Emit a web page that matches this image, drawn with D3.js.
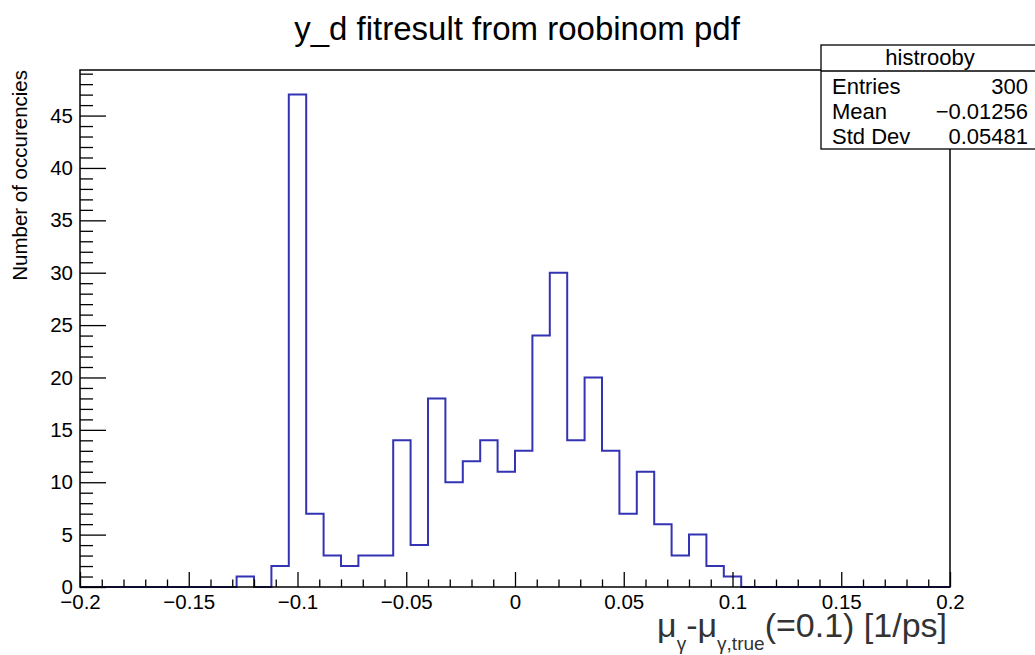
<!DOCTYPE html>
<html>
<head>
<meta charset="utf-8">
<script src="https://cdn.jsdelivr.net/npm/d3@7"></script>
<style>
  html, body { margin: 0; padding: 0; background: #fff; }
  svg { display: block; }
  text { font-family: "Liberation Sans", Arial, Helvetica, sans-serif; }
</style>
</head>
<body>
<svg id="chart" width="1035" height="655"></svg>
<script>
// ---- data ----
const title = "y_d fitresult from roobinom pdf";
const yTitle = "Number of occurencies";
const xRange = [-0.2, 0.2];
const binWidth = 0.008;
const counts = [0,0,0,0,0,0,0,0,0,1, 0,2,47,7,3,2,3,3,14,4, 18,10,12,14,11,13,24,30,14,20, 13,7,11,6,3,5,2,1,0,0, 0,0,0,0,0,0,0,0,0,0];
const xTicks = [-0.2, -0.15, -0.1, -0.05, 0, 0.05, 0.1, 0.15, 0.2];
const xTickLabels = ["\u22120.2", "\u22120.15", "\u22120.1", "\u22120.05", "0", "0.05", "0.1", "0.15", "0.2"];
const yTicks = [0, 5, 10, 15, 20, 25, 30, 35, 40, 45];
const statsTitle = "histrooby";
const statsNames = ["Entries", "Mean", "Std Dev"];
const statsValues = ["300", "\u22120.01256", "0.05481"];

// ---- layout ----
const svg = d3.select("#chart");
const L = 80, R = 950, T = 70, B = 587;
const yMax = d3.max(counts) * 1.05;
const x = d3.scaleLinear().domain(xRange).range([L, R]);
const y = d3.scaleLinear().domain([0, yMax]).range([B, T]);

// histogram outline
const pts = [[xRange[0], 0]];
counts.forEach((c, i) => pts.push([xRange[0] + i * binWidth, c]));
pts.push([xRange[1], counts[counts.length - 1]]);
pts.push([xRange[1], 0]);
const line = d3.line().x(d => x(d[0])).y(d => y(d[1])).curve(d3.curveStepAfter);
svg.append("path").attr("d", line(pts)).attr("fill", "none")
  .attr("stroke", "#3333b4").attr("stroke-width", 2);

// x axis major
const xAxis = d3.axisBottom(x).tickValues(xTicks)
  .tickFormat((d, i) => xTickLabels[i]).tickSize(-15).tickPadding(7);
const gx = svg.append("g").attr("transform", `translate(0,${B})`).call(xAxis);
// x minor
const xMinor = d3.range(-20, 21).map(v => v / 100).filter(v => Math.abs(Math.round(v * 100) % 5) !== 0);
const gxm = svg.append("g").attr("transform", `translate(0,${B})`)
  .call(d3.axisBottom(x).tickValues(xMinor).tickFormat("").tickSize(-7.5));

// y axis major
const gy = svg.append("g").attr("transform", `translate(${L},0)`)
  .call(d3.axisLeft(y).tickValues(yTicks).tickSize(-26).tickPadding(7));
const yMinor = d3.range(0, 50).filter(v => v % 5 !== 0);
const gym = svg.append("g").attr("transform", `translate(${L},0)`)
  .call(d3.axisLeft(y).tickValues(yMinor).tickFormat("").tickSize(-13));

[gx, gxm, gy, gym].forEach(g => {
  g.select(".domain").remove();
  g.selectAll("line").attr("stroke", "#000").attr("stroke-width", 1.3);
  g.selectAll("text").attr("fill", "#000").style("font-size", "20.5px")
    .style("font-family", "'Liberation Sans', Arial, Helvetica, sans-serif");
});

// frame
svg.append("rect").attr("x", L).attr("y", T).attr("width", R - L).attr("height", B - T)
  .attr("fill", "none").attr("stroke", "#000").attr("stroke-width", 1.5);

// title
svg.append("text").attr("x", 517).attr("y", 40).attr("text-anchor", "middle")
  .style("font-size", "33px").attr("fill", "#000").text(title);

// y title
svg.append("text").attr("transform", "translate(27,70) rotate(-90)")
  .attr("text-anchor", "end").style("font-size", "20.5px").attr("fill", "#000").text(yTitle);

// x title
const xt = svg.append("text").attr("x", 947).attr("y", 637).attr("text-anchor", "end")
  .attr("fill", "#333").style("font-size", "34px");
xt.append("tspan").text("\u03bc");
xt.append("tspan").attr("dy", 13).style("font-size", "19px").text("\u03b3");
xt.append("tspan").attr("dy", -13).text("-\u03bc");
xt.append("tspan").attr("dy", 13).style("font-size", "19px").text("\u03b3,true");
xt.append("tspan").attr("dy", -13).text("(=0.1) [1/ps]");

// stats box
const bx = 821, by = 45, bw = 220, bh = 104, hh = 26;
svg.append("rect").attr("x", bx).attr("y", by).attr("width", bw).attr("height", bh)
  .attr("fill", "#fff").attr("stroke", "#000").attr("stroke-width", 1.3);
svg.append("line").attr("x1", bx).attr("x2", bx + bw).attr("y1", by + hh).attr("y2", by + hh)
  .attr("stroke", "#000").attr("stroke-width", 1.3);
svg.append("text").attr("x", 930).attr("y", by + 20).attr("text-anchor", "middle")
  .style("font-size", "22px").attr("fill", "#000").text(statsTitle);
statsNames.forEach((n, i) => {
  svg.append("text").attr("x", 832).attr("y", 94 + i * 25).style("font-size", "22px")
    .attr("fill", "#000").text(n);
  svg.append("text").attr("x", 1028).attr("y", 94 + i * 25).attr("text-anchor", "end")
    .style("font-size", "22px").attr("fill", "#000").text(statsValues[i]);
});
</script>
</body>
</html>
